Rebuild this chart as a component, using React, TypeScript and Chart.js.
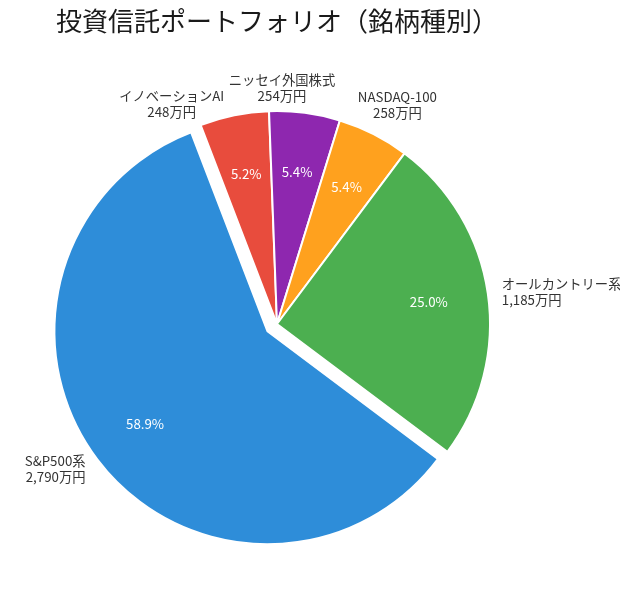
import React, { useEffect, useRef } from 'react';
import { Chart, registerables } from 'chart.js';

Chart.register(...registerables);

// slices listed clockwise, starting from the top-left
const fundNames = ['イノベーションAI', 'ニッセイ外国株式', 'NASDAQ-100', 'オールカントリー系', 'S&P500系'];
const amounts = [248, 254, 258, 1185, 2790]; // 万円

const sliceColors = ['#E84C3D', '#8E27AF', '#FFA11E', '#4CAF50', '#2E8DD9'];
const FONT = '"Noto Sans CJK JP", "Noto Sans", sans-serif';
const EXPLODE_PX = 12; // biggest slice gets pulled out
const PCT_DIST = 0.72;
// outer label placement: angle nudge (deg) and distance (x radius)
const labelShift = [-14, -6.3, 1.8, 0, 0];
const labelDist = [1.145, 1.108, 1.174, 1.066, 1.07];

const bigIndex = amounts.indexOf(Math.max(...amounts));
const total = amounts.reduce((a, b) => a + b, 0);

const piePlugin = {
  id: 'pieExtras',
  beforeDatasetDraw(chart: any, args: any) {
    const ctx = chart.ctx;
    args.meta.data.forEach((arc: any, i: number) => {
      const { startAngle, endAngle } = arc.getProps(['startAngle', 'endAngle'], true);
      const mid = (startAngle + endAngle) / 2;
      const d = i === bigIndex ? EXPLODE_PX : 0;
      ctx.save();
      ctx.translate(Math.cos(mid) * d, Math.sin(mid) * d);
      arc.draw(ctx);
      ctx.restore();
    });
    return false;
  },
  afterDraw(chart: any) {
    const ctx = chart.ctx;
    const meta = chart.getDatasetMeta(0);
    ctx.save();
    ctx.textBaseline = 'middle';
    ctx.font = `13.3px ${FONT}`;
    meta.data.forEach((arc: any, i: number) => {
      const { x, y, startAngle, endAngle, outerRadius } = arc.getProps(
        ['x', 'y', 'startAngle', 'endAngle', 'outerRadius'],
        true
      );
      const mid = (startAngle + endAngle) / 2;
      const d = i === bigIndex ? EXPLODE_PX : 0;
      const cx = x + Math.cos(mid) * d;
      const cy = y + Math.sin(mid) * d;

      // percentage inside
      const pct = ((amounts[i] / total) * 100).toFixed(1) + '%';
      ctx.fillStyle = '#ffffff';
      ctx.textAlign = 'center';
      ctx.fillText(pct, cx + Math.cos(mid) * outerRadius * PCT_DIST, cy + Math.sin(mid) * outerRadius * PCT_DIST);

      // name + amount outside
      const a = mid + (labelShift[i] * Math.PI) / 180;
      const lx = cx + Math.cos(a) * outerRadius * labelDist[i];
      const ly = cy + Math.sin(a) * outerRadius * labelDist[i];
      const c = Math.cos(a);
      ctx.textAlign = Math.abs(c) < 0.6 ? 'center' : c > 0 ? 'left' : 'right';
      ctx.fillStyle = '#333333';
      ctx.fillText(fundNames[i], lx, ly - 8);
      ctx.fillText(amounts[i].toLocaleString('en-US') + '万円', lx, ly + 8);
    });
    ctx.restore();
  },
};

const App: React.FC = () => {
  const canvasRef = useRef<HTMLCanvasElement>(null);

  useEffect(() => {
    if (!canvasRef.current) return;
    const chart = new Chart(canvasRef.current, {
      type: 'pie',
      data: {
        labels: fundNames,
        datasets: [
          {
            data: amounts,
            backgroundColor: sliceColors,
            borderColor: '#ffffff',
            borderWidth: 2,
          },
        ],
      },
      options: {
        animation: false,
        responsive: true,
        maintainAspectRatio: false,
        rotation: -21,
        radius: 213,
        layout: { padding: { left: 0, right: 82, top: 0, bottom: 0 } },
        plugins: {
          legend: { display: false },
          tooltip: { enabled: false },
          title: {
            display: true,
            text: '投資信託ポートフォリオ（銘柄種別）',
            fullSize: false,
            color: '#1a1a1a',
            font: { family: FONT, size: 26, weight: 'normal', lineHeight: 1.0 },
            padding: { top: 0, bottom: 22 },
          },
        },
      } as any,
      plugins: [piePlugin],
    });
    return () => chart.destroy();
  }, []);

  return (
    <div style={{ width: 620, height: 584, position: 'relative' }}>
      <canvas ref={canvasRef} />
    </div>
  );
};

export default App;
